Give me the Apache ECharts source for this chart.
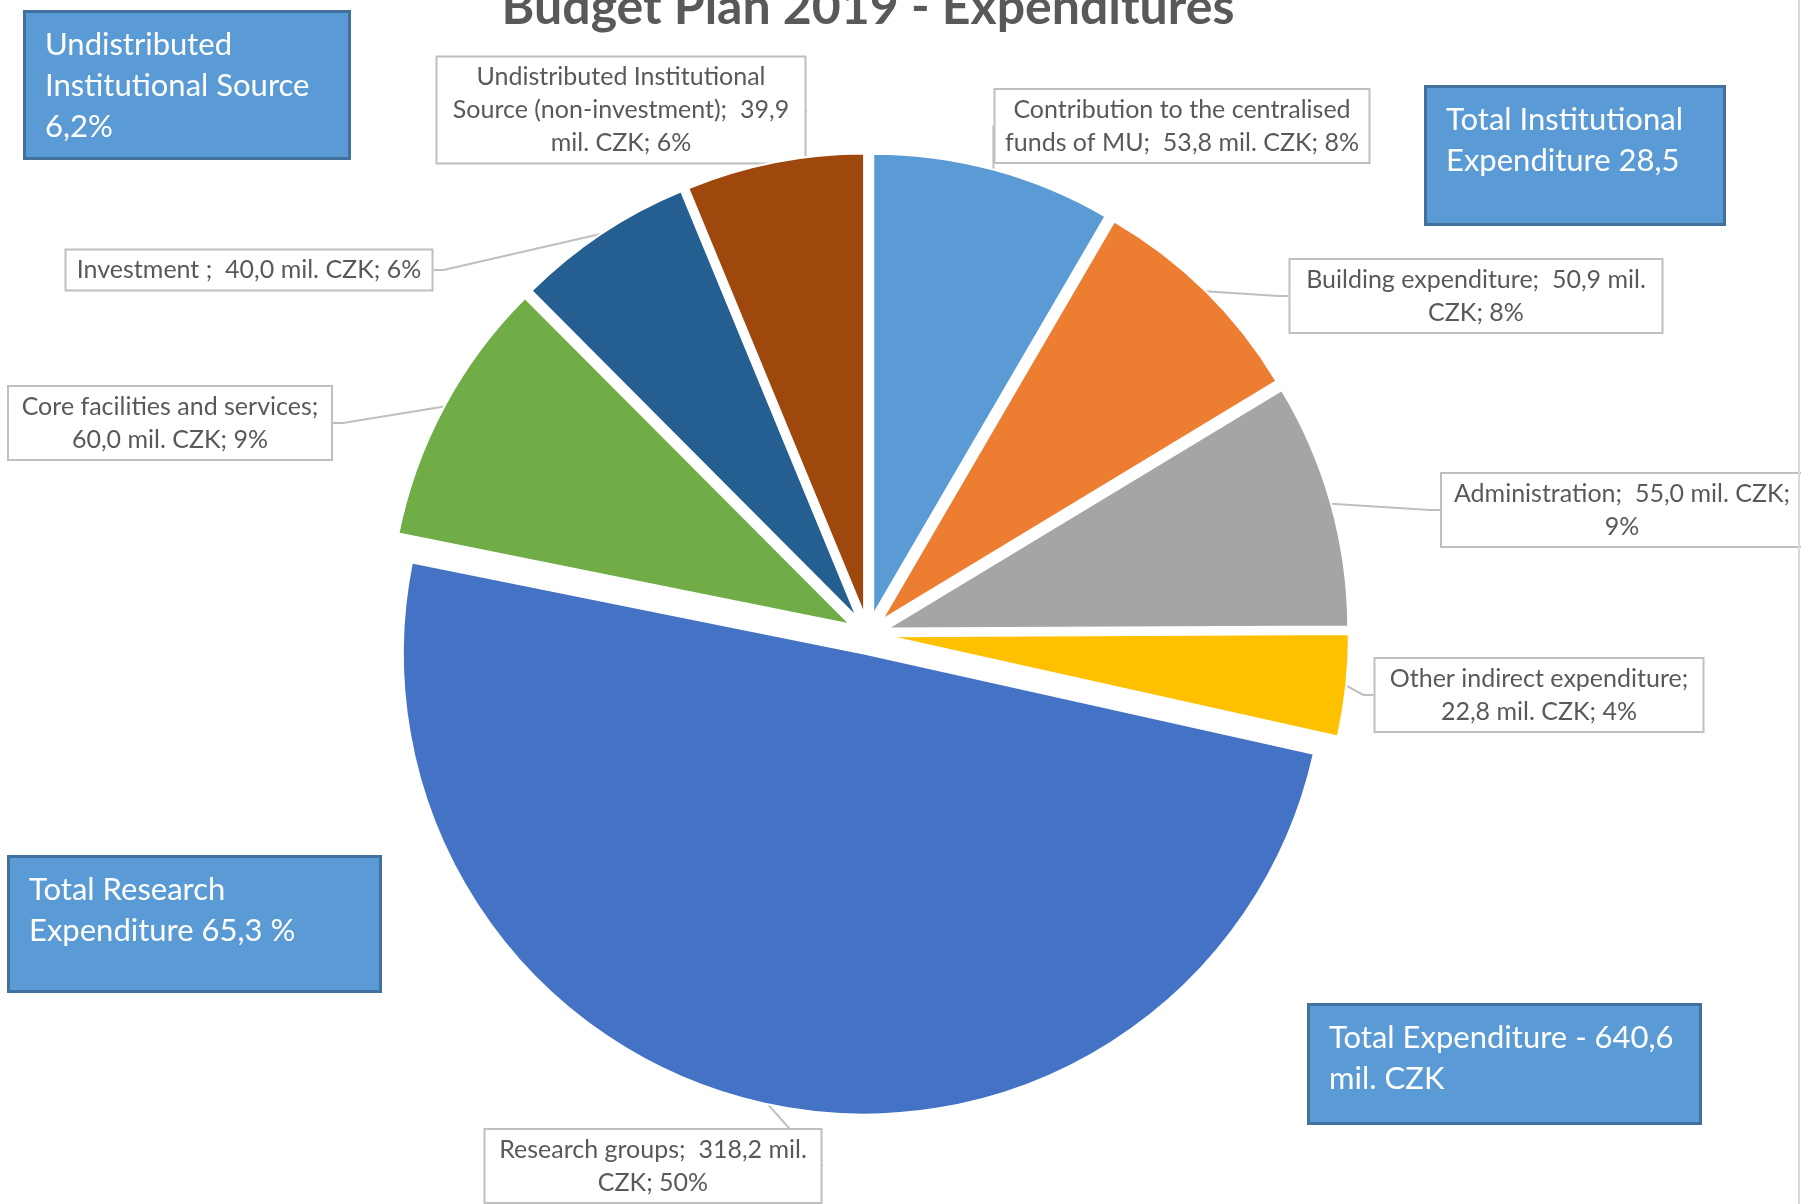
<!DOCTYPE html>
<html>
<head>
<meta charset="utf-8">
<script src="https://cdn.jsdelivr.net/npm/echarts@6/dist/echarts.min.js"></script>
<style>
html,body{margin:0;padding:0;background:#fff;}
#chart{width:1801px;height:1204px;}
</style>
</head>
<body>
<div id="chart"></div>
<script>
// ---- data ----
const categories = [
  'Contribution to the centralised funds of MU',
  'Building expenditure',
  'Administration',
  'Other indirect expenditure',
  'Research groups',
  'Core facilities and services',
  'Investment ',
  'Undistributed Institutional Source (non-investment)'
];
const values = [53.8, 50.9, 55.0, 22.8, 318.2, 60.0, 40.0, 39.9];
const titleText = 'Budget Plan 2019 - Expenditures';
const noteTexts = [
  'Undistributed\nInstitutional Source\n6,2%',
  'Total Institutional\nExpenditure 28,5',
  'Total Research\nExpenditure 65,3 %',
  'Total Expenditure - 640,6\nmil. CZK'
];

// ---- styles / layout ----
const colors = ['#5B9BD5','#ED7D31','#A5A5A5','#FFC000','#4472C4','#70AD47','#255E91','#9E480E'];
const FONT = 'Lato';
const R = 461, OFFSET = 20;
// word index after which to break label lines
const labelBreaks = [[4],[4],[4],[3],[4],[4],[],[2,5]];
// label box centers and widths
const labelBoxes = [
  [1182,126,373],
  [1476,296,371],
  [1622,510,360],
  [1539,695,327],
  [653,1166,335],
  [170,423,322],
  [249,270,365],
  [621,110,367]
];
const noteBoxes = [
  [23,10,325,147],
  [1424,85,299,138],
  [7,855,372,135],
  [1307,1003,392,119]
];

const total = values.reduce((a,b)=>a+b,0);
function fmt(v){ return v.toFixed(1).replace('.', ','); }
function buildLabel(i){
  const txt = categories[i] + ';  ' + fmt(values[i]) + ' mil. CZK; ' + Math.round(values[i]/total*100) + '%';
  const parts = txt.split(/(\s+)/);
  let out = '', w = 0;
  for (let k=0;k<parts.length;k++){
    const p = parts[k];
    if (k % 2 === 0) { out += p; if (p.length) w++; }
    else { out += (labelBreaks[i].indexOf(w) >= 0) ? '\n' : p; }
  }
  return out;
}

const chart = echarts.init(document.getElementById('chart'), null, {renderer:'canvas'});

const sliceData = categories.map((c,i)=>({
  name: c, value: values[i], selected: true,
  itemStyle: {color: colors[i]}
}));
const labelData = categories.map((c,i)=>({
  name: c, value: values[i],
  label: {width: labelBoxes[i][2] - 18}
}));

const graphics = [];
noteBoxes.forEach((b,i)=>{
  graphics.push({
    type:'rect', left:b[0], top:b[1], z:10,
    shape:{width:b[2], height:b[3]},
    style:{fill:'#5B9BD5', stroke:'#41719C', lineWidth:3}
  });
  graphics.push({
    type:'text', left:b[0]+22, top:b[1]+14, z:11,
    style:{text:noteTexts[i], fill:'#fff', font:'31px ' + FONT, lineHeight:41}
  });
});
graphics.push({
  type:'text', x:868, y:8, z:11,
  style:{text:titleText, fill:'#595959', font:'bold 50px ' + FONT, textAlign:'center', textVerticalAlign:'middle'}
});
graphics.push({
  type:'line', z:11,
  shape:{x1:1799, y1:0, x2:1799, y2:1204},
  style:{stroke:'#D9D9D9', lineWidth:2}
});

chart.setOption({
  backgroundColor:'#fff',
  animation:false,
  series:[{
    type:'pie',
    center:[868,634],
    radius:R,
    startAngle:90,
    clockwise:true,
    selectedMode:'multiple',
    selectedOffset:OFFSET,
    silent:true,
    itemStyle:{borderColor:'#fff', borderWidth:2},
    label:{show:false},
    labelLine:{show:false},
    data:sliceData
  },{
    type:'pie',
    center:[868,634],
    radius:R + OFFSET,
    startAngle:90,
    clockwise:true,
    silent:true,
    avoidLabelOverlap:false,
    itemStyle:{color:'rgba(0,0,0,0)', borderWidth:0},
    label:{
      show:true,
      position:'outside',
      formatter:(p)=>buildLabel(p.dataIndex),
      fontFamily:FONT,
      fontSize:25,
      lineHeight:33,
      color:'#595959',
      align:'center',
      overflow:'none',
      backgroundColor:'#fff',
      borderColor:'#BFBFBF',
      borderWidth:2,
      padding:[3,9]
    },
    labelLine:{show:true, length:10, length2:10, lineStyle:{color:'#BFBFBF', width:2}},
    labelLayout:(p)=>{
      const b = labelBoxes[p.dataIndex];
      return {x:b[0], y:b[1], align:'center', verticalAlign:'middle'};
    },
    data:labelData
  }],
  graphic:graphics
});
</script>
</body>
</html>
